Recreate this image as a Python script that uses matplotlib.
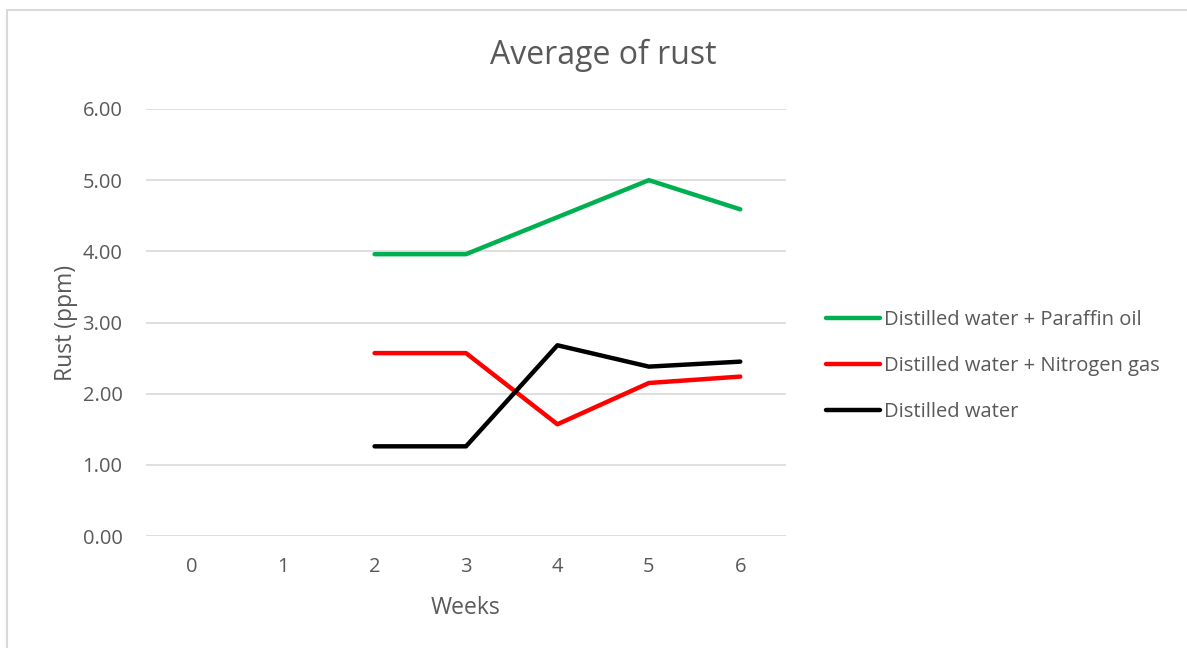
import matplotlib.pyplot as plt
from matplotlib.patches import Rectangle

weeks = [0, 1, 2, 3, 4, 5, 6]
paraffin = [None, None, 3.96, 3.96, 4.48, 5.00, 4.59]
nitrogen = [None, None, 2.57, 2.57, 1.57, 2.15, 2.24]
distilled = [None, None, 1.26, 1.26, 2.68, 2.38, 2.45]

labels = ["Distilled water + Paraffin oil", "Distilled water + Nitrogen gas", "Distilled water"]
colors = ["#00b050", "#ff0000", "#000000"]

plt.rcParams['font.family'] = ['Open Sans', 'DejaVu Sans']
txt = "#595959"

fig = plt.figure(figsize=(11.87, 6.48), dpi=100)
# chart border
fig.patches.append(Rectangle((7 / 1187, -0.01), 1.0, 1 - 10 / 648 + 0.01, transform=fig.transFigure,
                             fill=False, edgecolor="#d9d9d9", linewidth=1.5))

ax = fig.add_axes([146 / 1187, 1 - 536 / 648, 640 / 1187, 427 / 648])

series = [paraffin, nitrogen, distilled]
for vals, lab, c in zip(series, labels, colors):
    xs = [w for w, v in zip(weeks, vals) if v is not None]
    ys = [v for v in vals if v is not None]
    ax.plot(xs, ys, color=c, linewidth=3.2, label=lab, solid_capstyle="round")

ax.set_xlim(-0.5, 6.5)
ax.set_ylim(0, 6)
ax.set_xticks(weeks)
ax.set_xticklabels([str(w) for w in weeks])
ax.set_yticks([0, 1, 2, 3, 4, 5, 6])
ax.set_yticklabels(["%.2f" % v for v in [0, 1, 2, 3, 4, 5, 6]])
ax.yaxis.grid(True, color="#d9d9d9", linewidth=1.2)
ax.set_axisbelow(True)
for s in ["top", "right", "left", "bottom"]:
    ax.spines[s].set_visible(False)
ax.tick_params(length=0, labelsize=14.5, colors=txt)
ax.tick_params(axis="y", pad=17)
ax.tick_params(axis="x", pad=15)

ax.set_xlabel("Weeks", fontsize=16.5, color=txt, labelpad=14)
ax.set_ylabel("Rust (ppm)", fontsize=16.5, color=txt, labelpad=3)
fig.text(603 / 1187, 1 - 55 / 648, "Average of rust", fontsize=23, color=txt, ha="center", va="center")

leg = ax.legend(loc="center left", bbox_to_anchor=(1.0625, 0.398), frameon=False, fontsize=14.5,
                handlelength=2.7, handletextpad=0.2, labelspacing=1.27,
                borderaxespad=0, borderpad=0)
for t in leg.get_texts():
    t.set_color(txt)

fig.savefig("out.png", dpi=100)
